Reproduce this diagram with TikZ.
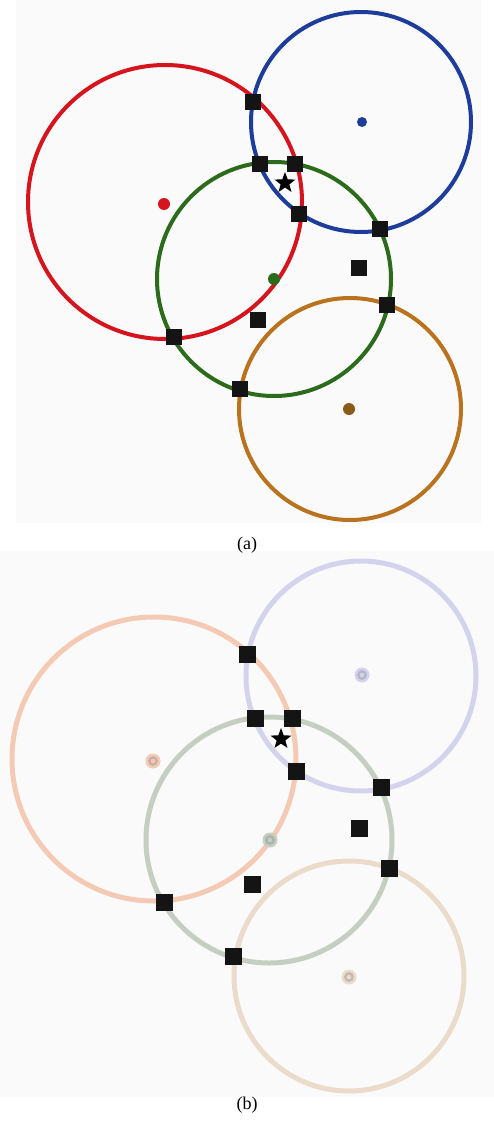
\documentclass[tikz,border=0pt]{standalone}
\usepackage{fontspec}
\setmainfont{Liberation Serif}
\usetikzlibrary{shapes.geometric}
\definecolor{bgpanel}{HTML}{FAFAFA}
\definecolor{cred}{HTML}{D5141D}
\definecolor{cblue}{HTML}{1E3D9A}
\definecolor{cgreen}{HTML}{2B6B1B}
\definecolor{corange}{HTML}{B9721E}
\definecolor{corangedot}{HTML}{8A5A18}
\definecolor{fred}{HTML}{F5CAB5}
\definecolor{fblue}{HTML}{D4D3EE}
\definecolor{fgreen}{HTML}{C4CFC1}
\definecolor{forange}{HTML}{EBDBCB}
\tikzset{
  sq/.style={draw=none, fill=black!92, minimum size=#1, inner sep=0pt, rectangle},
  sq/.default=16pt,
  starnode/.style={star, star points=5, star point ratio=2.4, fill=black, draw=none, minimum size=22pt, inner sep=0pt},
  ringA/.style={line width=4pt},
  ringB/.style={line width=5pt},
  captext/.style={font=\fontsize{18}{20}\selectfont, inner sep=0pt},
}
\begin{document}
\begin{tikzpicture}[x=1pt,y=-1pt]
\useasboundingbox (0,0) rectangle (494,1126);
\fill[white] (0,0) rectangle (494,1126);
% panel backgrounds
\fill[bgpanel] (16,0) rectangle (481,523);
\fill[bgpanel] (0,551) rectangle (494,1097);

% ---------- panel (a) ----------
\draw[ringA, cred]    (165,202) circle[radius=137];
\draw[ringA, cblue]   (361,122) circle[radius=110];
\draw[ringA, cgreen]  (274,279) circle[radius=117];
\draw[ringA, corange] (350,409) circle[radius=111];
\fill[cred] (164,204) circle[radius=6];
\fill[cblue] (362,122) circle[radius=5];
\fill[cgreen] (274,279) circle[radius=6];
\fill[corangedot] (349,409) circle[radius=6];

\node[sq] (a1) at (253,102) {};
\node[sq] (a2) at (260,164) {};
\node[sq] (a3) at (295,164) {};
\node[sq] (a4) at (299,214) {};
\node[sq] (a5) at (380,229) {};
\node[sq] (a6) at (359,268) {};
\node[sq] (a7) at (387,305) {};
\node[sq] (a8) at (258,320) {};
\node[sq] (a9) at (174,337) {};
\node[sq] (a10) at (240,389) {};
\node[starnode] (astar) at (285,183) {};
\node[captext] (capa) at (247,545) {(a)};

% ---------- panel (b) ----------
\draw[ringB, fred]    (154,759) circle[radius=142];
\draw[ringB, fblue]   (361,676) circle[radius=115];
\draw[ringB, fgreen]  (269,840) circle[radius=123];
\draw[ringB, forange] (349,976) circle[radius=115];
\foreach \p/\c in {{(153,761)}/fred, {(362,675)}/fblue, {(270,840)}/fgreen, {(349,977)}/forange}{
  \fill[\c] \p circle[radius=7.5];
  \fill[\c!75!black!75] \p circle[radius=5];
  \fill[\c] \p circle[radius=2.2];
}

\node[sq=17pt] (b1) at (247,654) {};
\node[sq=17pt] (b2) at (255,718) {};
\node[sq=17pt] (b3) at (292,718) {};
\node[sq=17pt] (b4) at (296,771) {};
\node[sq=17pt] (b5) at (381,787) {};
\node[sq=17pt] (b6) at (359,828) {};
\node[sq=17pt] (b7) at (389,868) {};
\node[sq=17pt] (b8) at (252,884) {};
\node[sq=17pt] (b9) at (164,902) {};
\node[sq=17pt] (b10) at (233,956) {};
\node[starnode] (bstar) at (281,739) {};
\node[captext] (capb) at (247,1105) {(b)};
\end{tikzpicture}
\end{document}
